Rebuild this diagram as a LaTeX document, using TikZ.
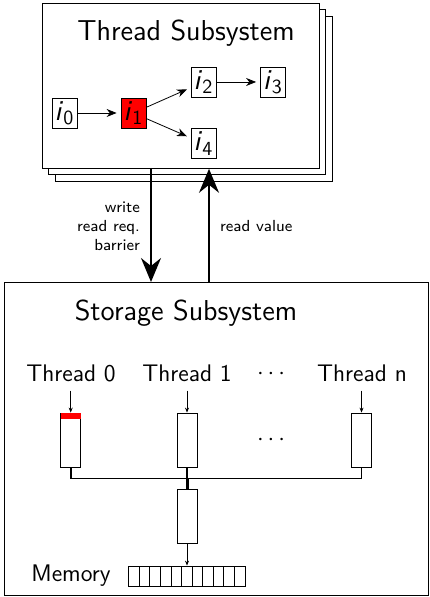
\documentclass[tikz,border=0pt]{standalone}
\usepackage{tikz}
\usetikzlibrary{arrows.meta}
\renewcommand{\familydefault}{\sfdefault}
\newcommand{\instr}[1]{\textit{i}\textsubscript{#1}}

\begin{document}
\begin{tikzpicture}[x=0.5pt, y=-0.5pt,
  insbox/.style={draw, minimum width=12.5pt, minimum height=15pt, inner sep=0pt, font=\Large},
  queue/.style={draw, minimum width=10pt, minimum height=27pt, inner sep=0pt},
  flow/.style={-{Stealth[length=5pt,width=4pt]}, shorten >=2pt},
  tinyflow/.style={-{Stealth[length=2.5pt,width=2pt]}},
  bigflow/.style={line width=1pt, -{Stealth[length=12pt,width=10pt,inset=4pt]}}]
  \useasboundingbox (0,0) rectangle (429,597);

  % thread subsystem, stacked copies behind
  \foreach \d in {13,6.5}
    \draw[fill=white] (42+\d,3+\d) rectangle (319+\d,168+\d);
  \node[draw, fill=white, minimum width=138.5pt, minimum height=82.5pt,
        inner sep=0pt, anchor=north west] (ts) at (42,3) {};
  \node[font=\Large] (tstitle) at (186,33) {Thread Subsystem};
  \node[insbox] (i0) at (64.5,113) {\instr{0}};
  \node[insbox, fill=red] (i1) at (133.5,113) {\instr{1}};
  \node[insbox] (i2) at (203.5,82) {\instr{2}};
  \node[insbox] (i3) at (273,82) {\instr{3}};
  \node[insbox] (i4) at (203.5,143.5) {\instr{4}};
  \draw[flow] (i0) -- (i1);
  \draw[flow] (i1) -- (i2);
  \draw[flow] (i1) -- (i4);
  \draw[flow] (i2) -- (i3);

  % storage subsystem
  \node[draw, minimum width=212pt, minimum height=156.5pt,
        inner sep=0pt, anchor=north west] (ss) at (4,282) {};
  \node[font=\Large] (sstitle) at (186,313) {Storage Subsystem};

  % requests and replies
  \coordinate (wr) at (151,168);
  \coordinate (rv) at (209,282);
  \draw[bigflow] (wr) -- (wr |- ss.north);
  \draw[bigflow] (rv) -- (rv |- ts.south);
  \node[font=\footnotesize, align=right, anchor=east] (wlabel) at (147,226)
    {write\\read req.\\barrier};
  \node[font=\footnotesize, anchor=west] (rlabel) at (213,226) {read value};

  % per-thread queues
  \node[font=\large] (t0) at (71,373) {Thread 0};
  \node[font=\large] (t1) at (187,373) {Thread 1};
  \node[font=\large] (tdots) at (271,374) {$\cdots$};
  \node[font=\large] (tn) at (362,373) {Thread n};
  \node[queue] (q0) at (70.7,440) {};
  \node[queue] (q1) at (187,440) {};
  \node[font=\large] (qdots) at (271,440) {$\cdots$};
  \node[queue] (qn) at (361.5,440) {};
  \fill[red] (60.5,413) rectangle (81,419);
  \foreach \q in {q0,q1,qn}
    \draw[tinyflow] ([yshift=11pt]\q.north) -- (\q.north);

  % merge into memory
  \node[queue] (qm) at (187,516) {};
  \draw[thick] (q0.south) -- ++(0,11) -| (qn.south);
  \draw[thick] (q1.south) -- ++(0,11);
  \draw[line width=1.5pt] (q1.south) ++(0,11) -- (qm.north);
  \node[draw, minimum width=58.2pt, minimum height=10pt, inner sep=0pt] (mem) at (187,576) {};
  \foreach \k in {1,...,10}
    \draw (128.7+\k*10.57,566) -- ++(0,20);
  \draw[tinyflow] (qm) -- (mem);
  \node[font=\large] (memlabel) at (71,576) {Memory};
\end{tikzpicture}
\end{document}
